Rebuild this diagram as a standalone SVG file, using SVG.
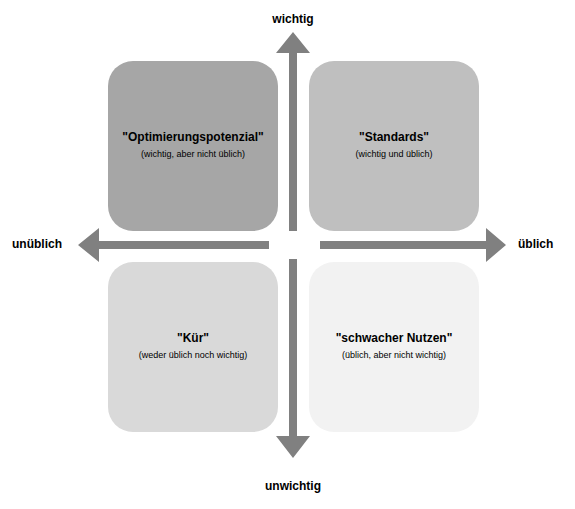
<svg xmlns="http://www.w3.org/2000/svg" width="575" height="509" viewBox="0 0 575 509">
<style>
.t{font-family:"Liberation Sans",Arial,sans-serif;font-weight:bold;font-size:12px;fill:#000;text-anchor:middle}
.s{font-family:"Liberation Sans",Arial,sans-serif;font-size:9px;fill:#000;text-anchor:middle}
.ax{font-family:"Liberation Sans",Arial,sans-serif;font-weight:bold;font-size:12px;fill:#000}
.arr{fill:#808080}
</style>
<rect width="575" height="509" fill="#fff"/>
<g id="opt"><rect x="108" y="61" width="170" height="170" rx="25" fill="#a6a6a6"/>
<text class="t" x="193" y="141">"Optimierungspotenzial"</text>
<text class="s" x="193" y="157">(wichtig, aber nicht üblich)</text></g>
<g id="std"><rect x="309" y="61" width="170" height="170" rx="25" fill="#bfbfbf"/>
<text class="t" x="394" y="141">"Standards"</text>
<text class="s" x="394" y="157">(wichtig und üblich)</text></g>
<g id="kur"><rect x="108" y="262" width="170" height="170" rx="25" fill="#d9d9d9"/>
<text class="t" x="193" y="342">"Kür"</text>
<text class="s" x="193" y="358">(weder üblich noch wichtig)</text></g>
<g id="sch"><rect x="309" y="262" width="170" height="170" rx="25" fill="#f2f2f2"/>
<text class="t" x="394" y="342">"schwacher Nutzen"</text>
<text class="s" x="394" y="358">(üblich, aber nicht wichtig)</text></g>
<g id="connectors">
<polygon class="arr" points="289,231 289,53 276,53 293,32 310,53 297,53 297,231"/>
<polygon class="arr" points="289,259 289,436 276,436 293,458 310,436 297,436 297,259"/>
<polygon class="arr" points="269,241 99,241 99,228 78,245 99,262 99,249 269,249"/>
<polygon class="arr" points="320,241 486,241 486,228 506,245 486,262 486,249 320,249"/>
</g>
<text class="ax" x="293" y="23" text-anchor="middle">wichtig</text>
<text class="ax" x="293" y="490" text-anchor="middle">unwichtig</text>
<text class="ax" x="12" y="248">unüblich</text>
<text class="ax" x="518" y="248">üblich</text>
</svg>
